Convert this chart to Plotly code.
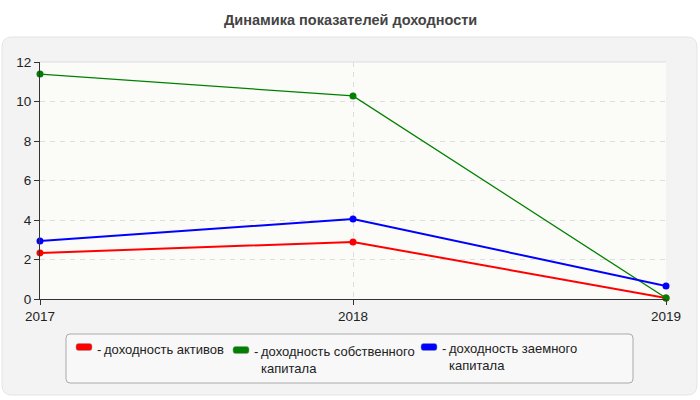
import plotly.graph_objects as go

years = [2017, 2018, 2019]
series_names = ["доходность активов", "доходность собственного<br>капитала", "доходность заемного<br>капитала"]
series_colors = ["#ff0000", "#008000", "#0000ff"]
roa = [2.33, 2.89, 0.05]
roe = [11.39, 10.28, 0.05]
rod = [2.94, 4.05, 0.66]
series_values = [roa, roe, rod]
title_text = "Динамика показателей доходности"

W, H = 700, 400
L, R, T, B = 40, 666, 62, 299
pw, ph = R - L, B - T
FONT = "Liberation Sans, Arial"

def px(x):
    return (x - L) / pw

def py(y):
    return (B - y) / ph

def rrect(x0, y0, x1, y1, r):
    X = lambda v: px(v)
    Y = lambda v: py(v)
    return (f"M {X(x0+r)},{Y(y0)} L {X(x1-r)},{Y(y0)} Q {X(x1)},{Y(y0)} {X(x1)},{Y(y0+r)} "
            f"L {X(x1)},{Y(y1-r)} Q {X(x1)},{Y(y1)} {X(x1-r)},{Y(y1)} "
            f"L {X(x0+r)},{Y(y1)} Q {X(x0)},{Y(y1)} {X(x0)},{Y(y1-r)} "
            f"L {X(x0)},{Y(y0+r)} Q {X(x0)},{Y(y0)} {X(x0+r)},{Y(y0)} Z")

fig = go.Figure()
widths = [2, 1.3, 2]
for name, vals, col, w in zip(series_names, series_values, series_colors, widths):
    fig.add_trace(go.Scatter(x=years, y=vals, mode="lines+markers", name=name,
                             line=dict(color=col, width=w),
                             marker=dict(color=col, size=7), showlegend=False,
                             cliponaxis=False))

shapes = []
shapes.append(dict(type="path", xref="paper", yref="paper", path=rrect(2, 37, 697, 395, 10),
                   fillcolor="#f3f3f3", line=dict(color="#e4e4e4", width=1), layer="below"))
shapes.append(dict(type="rect", xref="paper", yref="paper", x0=0, x1=1, y0=0, y1=1,
                   fillcolor="#fbfbf7", line=dict(width=0), layer="below"))
shapes.append(dict(type="line", xref="paper", yref="paper", x0=0, x1=1, y0=1, y1=1,
                   line=dict(color="#dddddd", width=1), layer="below"))
shapes.append(dict(type="path", xref="paper", yref="paper", path=rrect(66, 334, 633, 383, 4),
                   fillcolor="#f8f8f8", line=dict(color="#aaaaaa", width=1)))

annotations = [dict(text=f"<b>{title_text}</b>", xref="paper", yref="paper", x=px(350), y=py(20),
                    xanchor="center", yanchor="middle", showarrow=False,
                    font=dict(family=FONT, size=14.5, color="#444444"))]

leg_x = [76, 233, 421]
leg_sw_y = [347, 350, 347]
leg_text_y = [340, 342, 339]
for i in range(3):
    shapes.append(dict(type="path", xref="paper", yref="paper",
                       path=rrect(leg_x[i], leg_sw_y[i] - 3.5, leg_x[i] + 16, leg_sw_y[i] + 3.5, 2.5),
                       fillcolor=series_colors[i], line=dict(color="#999999", width=0.5)))
    annotations.append(dict(text="-", xref="paper", yref="paper", x=px(leg_x[i] + 19), y=py(leg_text_y[i]),
                            xanchor="left", yanchor="top", showarrow=False,
                            font=dict(family=FONT, size=13, color="#222222")))
    annotations.append(dict(text=series_names[i], xref="paper", yref="paper", x=px(leg_x[i] + 26),
                            y=py(leg_text_y[i]), xanchor="left", yanchor="top", align="left",
                            showarrow=False,
                            font=dict(family=FONT, size=13, color="#222222")))

fig.update_layout(
    width=W, height=H,
    margin=dict(l=L, r=W - R, t=T, b=H - B),
    paper_bgcolor="#ffffff", plot_bgcolor="rgba(0,0,0,0)",
    shapes=shapes, annotations=annotations,
    font=dict(family=FONT, size=13, color="#222222"),
    xaxis=dict(range=[2017, 2019], tickvals=years, ticktext=[str(y) for y in years],
               showline=True, linecolor="#333333", linewidth=1, ticks="outside", ticklen=5,
               tickcolor="#333333", showgrid=True, gridcolor="#dedede", griddash="5px,5px",
               zeroline=False, tickfont=dict(size=13.5, color="#222222")),
    yaxis=dict(range=[0, 12], dtick=2, showline=True, linecolor="#333333", linewidth=1,
               ticks="outside", ticklen=5, tickcolor="#333333", showgrid=True,
               gridcolor="#dedede", griddash="5px,5px", zeroline=False,
               tickfont=dict(size=13.5, color="#222222")),
)

fig.write_html("out.html")
